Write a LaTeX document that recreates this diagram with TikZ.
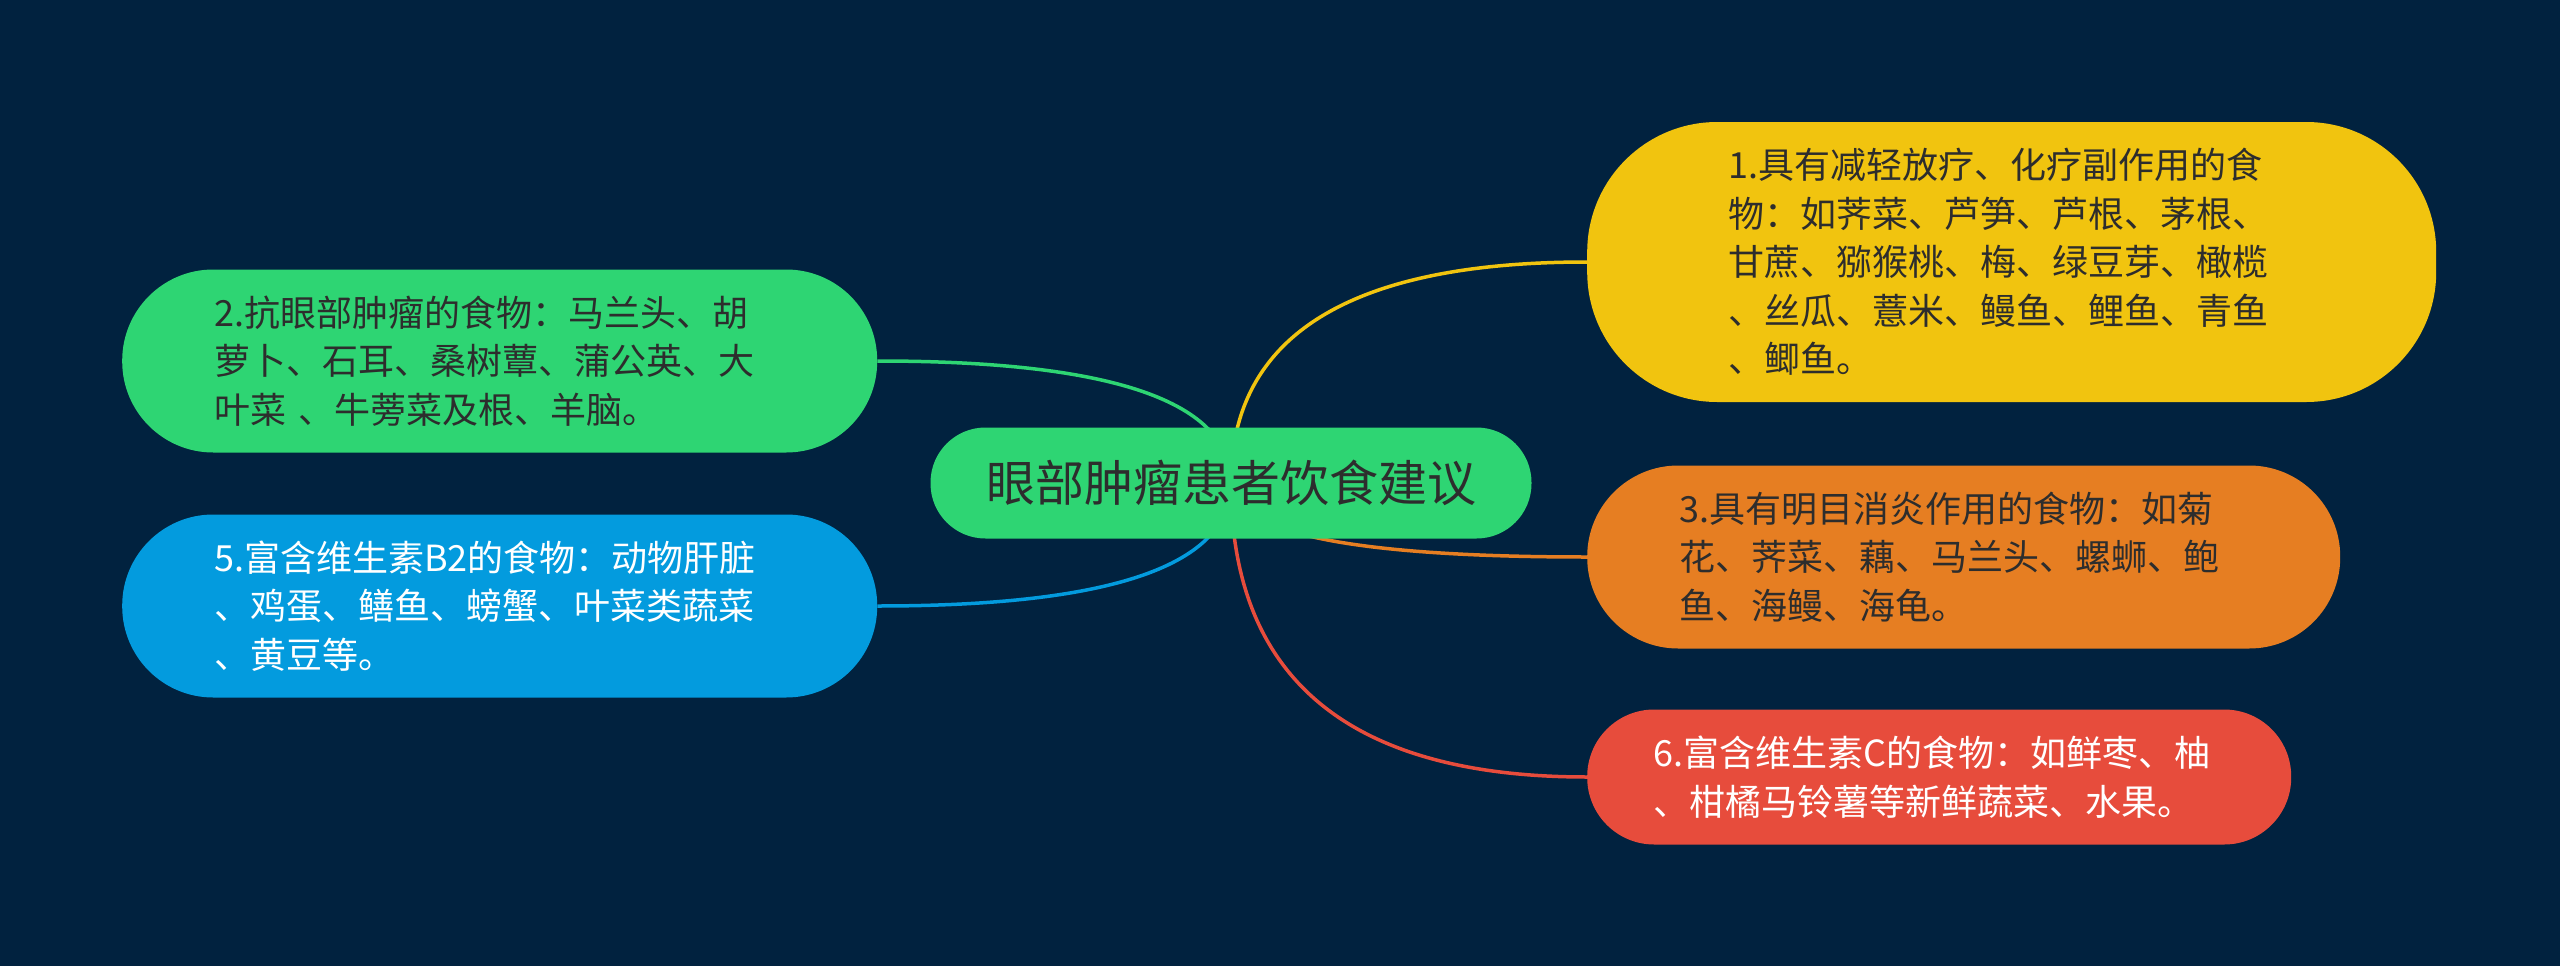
\documentclass[tikz,border=0pt]{standalone}
\usepackage{fontspec}
\setmainfont{Noto Sans CJK SC}
\usetikzlibrary{calc,backgrounds}
\definecolor{bgc}{RGB}{1,34,63}
\definecolor{yel}{RGB}{241,196,15}
\definecolor{grn}{RGB}{46,213,115}
\definecolor{blu}{RGB}{3,155,222}
\definecolor{org}{RGB}{230,126,34}
\definecolor{rdc}{RGB}{231,76,60}
\definecolor{dark}{RGB}{45,45,45}
\begin{document}
\begin{tikzpicture}[x=1pt,y=-1pt,
  box/.style={anchor=west, inner ysep=0pt, align=left, font=\fontsize{36}{48.5}\selectfont},
  con/.style={line width=3.5pt}]
\useasboundingbox (0,0) rectangle (2560,966);
\node[fill=grn, text=dark, rounded corners=55pt, minimum width=601pt, minimum height=111pt, inner sep=0pt, font=\fontsize{49}{56}\selectfont] (ct) at (1231,483) {眼部肿瘤患者饮食建议};
\node[box, fill=yel, text=dark, rounded corners=130pt, minimum height=280pt, text width=567pt, inner xsep=141pt] (n1) at (1587,262) {1.具有减轻放疗、化疗副作用的食\\物：如荠菜、芦笋、芦根、茅根、\\甘蔗、猕猴桃、梅、绿豆芽、橄榄\\、丝瓜、薏米、鳗鱼、鲤鱼、青鱼\\、鲫鱼。};
\node[box, fill=grn, text=dark, rounded corners=91pt, minimum height=183pt, text width=571pt, inner xsep=92pt] (n2) at (122,361) {2.抗眼部肿瘤的食物：马兰头、胡\\萝卜、石耳、桑树蕈、蒲公英、大\\叶菜 、牛蒡菜及根、羊脑。};
\node[box, fill=blu, text=white, rounded corners=91pt, minimum height=183pt, text width=571pt, inner xsep=92pt] (n5) at (122,606) {5.富含维生素B2的食物：动物肝脏\\、鸡蛋、鳝鱼、螃蟹、叶菜类蔬菜\\、黄豆等。};
\node[box, fill=org, text=dark, rounded corners=91pt, minimum height=183pt, text width=569pt, inner xsep=92pt] (n3) at (1587,557) {3.具有明目消炎作用的食物：如菊\\花、荠菜、藕、马兰头、螺蛳、鲍\\鱼、海鳗、海龟。};
\node[box, fill=rdc, text=white, rounded corners=67pt, minimum height=135pt, text width=572pt, inner xsep=66pt] (n6) at (1587,777) {6.富含维生素C的食物：如鲜枣、柚\\、柑橘马铃薯等新鲜蔬菜、水果。};
\begin{pgfonlayer}{background}
\fill[bgc] (0,0) rectangle (2560,966);
\draw[con, yel] (ct.center) .. controls ($(ct.center)!2/3!(ct.center|-n1.west)$) and ($(n1.west)!2/3!(ct.center|-n1.west)$) .. (n1.west);
\draw[con, org] (ct.center) .. controls ($(ct.center)!2/3!(ct.center|-n3.west)$) and ($(n3.west)!2/3!(ct.center|-n3.west)$) .. (n3.west);
\draw[con, rdc] (ct.center) .. controls ($(ct.center)!2/3!(ct.center|-n6.west)$) and ($(n6.west)!2/3!(ct.center|-n6.west)$) .. (n6.west);
\draw[con, grn] (ct.center) .. controls ($(ct.center)!2/3!(ct.center|-n2.east)$) and ($(n2.east)!2/3!(ct.center|-n2.east)$) .. (n2.east);
\draw[con, blu] (ct.center) .. controls ($(ct.center)!2/3!(ct.center|-n5.east)$) and ($(n5.east)!2/3!(ct.center|-n5.east)$) .. (n5.east);
\end{pgfonlayer}
\end{tikzpicture}
\end{document}
